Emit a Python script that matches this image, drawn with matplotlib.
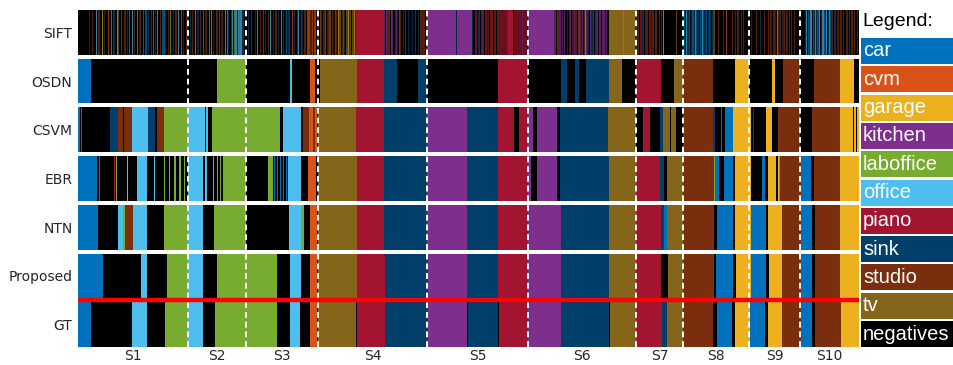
import matplotlib
matplotlib.use("Agg")
import matplotlib.pyplot as plt

# class codes -> names / colours
codes = ['c', 'v', 'g', 'p', 'l', 'o', 'r', 's', 't', 'y', 'k']
names = ['car', 'cvm', 'garage', 'kitchen', 'laboffice', 'office',
         'piano', 'sink', 'studio', 'tv', 'negatives']
colors = ['#0072BD', '#D95319', '#EDB120', '#7E2F8E', '#77AC30', '#4DBEEE',
          '#A2142F', '#003F69', '#7A2E0E', '#85651A', '#000000']

methods = ['SIFT', 'OSDN', 'CSVM', 'EBR', 'NTN', 'Proposed', 'GT']
n_frames = 781

# session boundaries (frames) and names
session_edges = [0, 110, 168, 240, 349, 450, 558, 605, 671, 722, 781]
session_names = ['S1', 'S2', 'S3', 'S4', 'S5', 'S6', 'S7', 'S8', 'S9', 'S10']

# SIFT: run-length coded (class + length)
sift_runs = (
    "k11 "
    "s1 k2 t1 k3 o1 k1 t2 k2 g1 k1 s1 k3 v1 k2 l1 k1 t1 s1 k2 g1 "
    "y1 k2 c1 k2 t2 k1 s1 k1 v1 k2 o1 k1 t1 k2 l1 k1 s1 t1 k2 y1 "
    "k1 c2 k1 s1 k2 t1 k1 v1 k1 s1 k1 o1 k2 t1 k1 c3 s1 k2 t1 k1 "
    "l1 k2 s1 k1 t2 k1 o1 k2 v1 k1 s1 k2 t2 "
    "k2 s1 k1 t1 k2 o1 k1 s2 k1 t1 k2 v1 k1 s1 t1 k2 l1 k1 o1 k1 "
    "s1 k2 t2 k1 c1 k1 s1 t1 k2 o1 k1 l1 s1 k2 t1 o1 k1 l1 o2 s1 "
    "o1 l1 o2 s1 t1 "
    "k4 s1 k2 t1 k3 s1 k1 o1 k2 t1 k2 c1 k1 s1 k2 t1 k1 o1 k2 s1 "
    "k1 t2 k1 s1 k2 o1 k1 t1 k2 c1 k1 s1 t1 k2 v1 k1 s1 k2 t1 o1 "
    "k2 t1 s1 k1 t2 k1 v3 t2 v1 k1 v2 k1 "
    "s1 t1 k1 y1 s1 k1 t2 y1 k1 s1 t1 y2 k1 t1 s1 k1 y1 t1 k1 g1 "
    "y2 k1 t1 y1 s1 k1 y2 g1 t1 y1 k1 y2 g1 t1 "
    "r28 "
    "p1 k1 p2 t1 p1 k1 y1 p1 k2 t1 p1 s1 k1 y1 t1 k2 s1 k1 p1 k2 "
    "s1 k3 s1 k2 t1 k2 s1 k1 t1 r1 t1 r1 t1 k1 t1 "
    "p29 s1 p15 "
    "s1 k2 t1 r1 k1 s1 t1 k1 r1 p1 t1 k1 r2 s1 t1 k1 r1 p1 t1 k1 "
    "r1 t1 k1 r1 t1 "
    "r4 t1 r3 p1 r5 k1 r3 t1 r4 p1 r4 k1 "
    "p26 "
    "p2 k1 p1 t1 p2 k1 p1 k1 p1 k2 s1 k1 "
    "t1 p1 k1 t1 s1 p1 t2 k1 p1 y1 t1 s1 p1 k1 t1 g1 p1 t1 s1 k1 "
    "p1 t1 s1 p1 k1 t1 p1 c1 k1 "
    "p2 k1 p3 s1 p1 k2 "
    "y14 g1 y11 "
    "r1 s1 r1 t1 k1 r2 s1 r1 k1 r1 t1 r1 k1 r2 s1 t1 r1 k1 r1 t1 "
    "k2 r1 k1 t1 k1 g1 k8 "
    "k4 y1 k6 "
    "s1 c1 k1 o1 s2 c1 k1 s1 c2 s1 o1 c1 s2 k1 c1 s1 o1 c1 "
    "s2 c1 k1 s1 c1 s1 k1 s1 c1 y1 "
    "k3 t1 k4 t1 k2 v1 k5 t1 k2 t1 k1 t2 k2 t1 k1 t1 k4 "
    "k3 s1 k4 t1 k3 s1 k3 t1 k3 "
    "t1 k1 t1 s1 k1 t2 s1 k1 o1 t1 s1 t1 k1 s2 t1 k1 t1 s1 k1 "
    "t1 k1 t1 k2 t1 k3 "
    "k7 "
    "s1 o1 k1 c1 s1 o2 k1 c1 s1 o1 s1 c2 o1 k1 s1 o2 c1 s1 "
    "o1 k1 s1 o1 c1 s1 t1 k1 s1 t1 k1 s1 "
    "t1 k1 t2 k1 t1 k2 t2 k1 t1 k1 t2 k1 t1 k2 t1 k1"
)

# other rows: (start frame, class)
osdn = [(0, 'c'), (13, 'k'), (139, 'l'), (168, 'k'), (212, 'o'), (214, 'k'),
        (232, 'v'), (237, 'k'), (242, 'y'), (279, 'r'), (306, 's'), (319, 'k'),
        (340, 's'), (349, 'k'), (420, 'r'), (450, 'k'), (483, 's'), (489, 'k'),
        (497, 's'), (501, 'k'), (508, 's'), (531, 'y'), (544, 'k'), (558, 'r'),
        (583, 'k'), (596, 'y'), (605, 't'), (635, 'k'), (657, 'g'), (671, 'k'),
        (694, 'g'), (697, 'k'), (705, 't'), (722, 'k'), (736, 't'), (762, 'g'),
        (776, 'k')]

csvm = [(0, 'c'), (2, 'k'), (3, 'c'), (4, 'k'), (32, 's'), (40, 't'), (45, 'k'),
        (46, 't'), (54, 'o'), (70, 's'), (77, 'k'), (79, 't'), (86, 'l'),
        (110, 'o'), (127, 'k'), (128, 'o'), (130, 'k'), (134, 'l'), (202, 'k'),
        (205, 'o'), (223, 'k'), (225, 't'), (231, 'v'), (235, 't'), (237, 'v'),
        (239, 'k'), (240, 'y'), (278, 'r'), (306, 's'), (349, 'p'), (389, 's'),
        (420, 'r'), (436, 'k'), (441, 'r'), (450, 'p'), (455, 'k'), (459, 'p'),
        (479, 'k'), (482, 's'), (530, 'y'), (558, 'k'), (565, 'r'), (572, 'k'),
        (582, 's'), (585, 'y'), (592, 'k'), (593, 'y'), (598, 'k'), (605, 't'),
        (635, 's'), (637, 'k'), (643, 'c'), (644, 'k'), (647, 'c'), (655, 'g'),
        (673, 'k'), (675, 's'), (676, 'k'), (688, 'g'), (694, 'k'), (700, 't'),
        (722, 'k'), (734, 't'), (762, 'g'), (775, 'k'), (776, 'g'), (778, 'k'),
        (779, 'g')]

ebr = [(0, 'c'), (19, 'k'), (21, 'c'), (22, 'k'), (36, 'r'), (37, 'k'), (38, 'l'),
       (39, 'k'), (49, 'o'), (50, 'k'), (59, 'o'), (69, 'k'), (76, 'o'), (77, 'k'),
       (86, 'l'), (87, 'k'), (91, 'l'), (92, 'k'), (96, 'l'), (98, 'k'), (101, 'l'),
       (103, 'k'), (106, 'l'), (107, 'k'), (110, 'o'), (125, 'k'), (127, 'o'),
       (129, 'k'), (135, 'l'), (136, 'k'), (139, 'l'), (140, 'k'), (142, 'l'),
       (143, 'k'), (145, 'l'), (168, 'k'), (190, 'l'), (195, 'k'), (196, 'c'),
       (197, 'k'), (199, 'c'), (200, 'k'), (202, 'c'), (203, 'k'), (205, 'c'),
       (206, 'k'), (208, 'c'), (209, 'k'), (210, 'o'), (223, 'k'), (230, 'v'),
       (238, 'k'), (240, 'y'), (279, 'r'), (306, 's'), (349, 'p'), (389, 's'),
       (420, 'r'), (450, 'p'), (453, 'k'), (459, 'p'), (479, 'k'), (482, 's'),
       (531, 'y'), (558, 'r'), (582, 's'), (586, 'k'), (589, 'y'), (605, 't'),
       (636, 'l'), (637, 'c'), (641, 'k'), (646, 'c'), (655, 'k'), (657, 'g'),
       (673, 'k'), (684, 'c'), (687, 'k'), (690, 'g'), (698, 'k'), (700, 'g'),
       (701, 'l'), (702, 't'), (723, 'c'), (733, 'k'), (736, 't'), (762, 'g')]

ntn = [(0, 'c'), (20, 'k'), (40, 'o'), (45, 'l'), (47, 't'), (55, 'o'), (69, 'k'),
       (86, 'l'), (110, 'o'), (125, 'k'), (136, 'l'), (168, 'k'), (211, 'o'),
       (223, 'l'), (226, 'k'), (232, 'v'), (239, 'k'), (240, 'y'), (279, 'r'),
       (306, 's'), (349, 'p'), (389, 's'), (420, 'r'), (450, 'p'), (483, 's'),
       (531, 'y'), (558, 'r'), (583, 's'), (586, 'c'), (589, 'y'), (605, 't'),
       (636, 'k'), (639, 'c'), (655, 'k'), (657, 'g'), (673, 'c'), (688, 'k'),
       (690, 'g'), (704, 't'), (723, 'c'), (734, 'k'), (737, 't'), (762, 'g')]

proposed = [(0, 'c'), (25, 'k'), (63, 'o'), (69, 'k'), (89, 'l'), (110, 'o'),
            (125, 'k'), (139, 'l'), (199, 'k'), (212, 'o'), (223, 'k'), (232, 'v'),
            (239, 'k'), (240, 'y'), (279, 'r'), (307, 's'), (350, 'p'), (389, 's'),
            (420, 'r'), (450, 'p'), (483, 's'), (531, 'y'), (558, 'r'), (583, 'k'),
            (590, 'y'), (605, 't'), (636, 'k'), (638, 'c'), (655, 'k'), (658, 'g'),
            (673, 'c'), (688, 'k'), (691, 'g'), (704, 't'), (723, 'c'), (734, 'k'),
            (737, 't'), (762, 'g')]

gt = [(0, 'c'), (13, 'k'), (54, 'o'), (69, 'k'), (87, 'l'), (110, 'o'), (125, 'k'),
      (137, 'l'), (199, 'k'), (212, 'o'), (222, 'k'), (232, 'v'), (239, 'k'),
      (240, 'y'), (278, 'k'), (279, 'r'), (307, 's'), (350, 'p'), (389, 'k'),
      (390, 's'), (420, 'k'), (421, 'r'), (450, 'p'), (483, 's'), (531, 'k'),
      (532, 'y'), (558, 'r'), (584, 's'), (589, 'y'), (605, 't'), (635, 'k'),
      (639, 'c'), (654, 'k'), (657, 'g'), (672, 'c'), (687, 'k'), (690, 'g'),
      (704, 't'), (723, 'c'), (734, 'k'), (737, 't'), (763, 'g')]


def runs_to_starts(runs):
    out = []
    pos = 0
    for tok in runs.split():
        out.append((pos, tok[0]))
        pos += int(tok[1:])
    return out


rows = [runs_to_starts(sift_runs), osdn, csvm, ebr, ntn, proposed, gt]
color_of = dict(zip(codes, colors))

fig = plt.figure(figsize=(9.54, 3.65), dpi=100)
ax = fig.add_axes([78 / 954, 1 - 347 / 365, 781 / 954, 337 / 365])

row_h = 45 / 49
for i, segs in enumerate(rows):
    # black underlay so thin, faded stripes read as mixed with negatives
    ax.broken_barh([(0, n_frames)], (i, row_h), facecolors='black',
                   edgecolor='none', linewidth=0)
    thin, solid = {}, {}
    for j, (start, cls) in enumerate(segs):
        end = segs[j + 1][0] if j + 1 < len(segs) else n_frames
        target = thin if (i == 0 and end - start < 5) else solid
        target.setdefault(cls, []).append((start, end - start))
    for cls, spans in solid.items():
        ax.broken_barh(spans, (i, row_h), facecolors=color_of[cls],
                       edgecolor='none', linewidth=0)
    for cls, spans in thin.items():
        ax.broken_barh(spans, (i, row_h), facecolors=color_of[cls],
                       edgecolor='none', linewidth=0, alpha=0.68)

# session separators
for xb in session_edges[1:-1]:
    ax.axvline(xb, color='white', lw=1.4, ls=(0, (3, 2)))

# red line between Proposed and GT
ax.axhline(5 + row_h + (1 - row_h) / 2, color='#ff0000', lw=3.2)

ax.set_xlim(0, n_frames)
ax.set_ylim(6 + row_h, 0)
centers = [(a + b) / 2 for a, b in zip(session_edges[:-1], session_edges[1:])]
ax.set_xticks(centers)
ax.set_xticklabels(session_names, fontsize=10, color='#262626')
ax.set_yticks([i + row_h / 2 for i in range(len(methods))])
ax.set_yticklabels(methods, fontsize=10, color='#262626')
ax.tick_params(axis='y', length=0, pad=4)
ax.tick_params(axis='x', length=0, pad=1.5)
for sp in ax.spines.values():
    sp.set_visible(False)

# legend panel
lax = fig.add_axes([861 / 954, 0, 93 / 954, 1])
lax.set_xlim(0, 93)
lax.set_ylim(365, 0)
lax.axis('off')
lax.text(1, 22, 'Legend:', fontsize=14, family='Liberation Sans',
         va='center', ha='left', color='black')
box_h = 26
for i, (nm, col) in enumerate(zip(names, colors)):
    top = 38 + i * 28.3
    lax.barh(top + box_h / 2, 93, height=box_h, left=0, color=col)
    lax.text(2, top + box_h / 2, nm, fontsize=14.5, family='Liberation Sans',
             color='white', va='center', ha='left')

fig.savefig('out.png', dpi=100)
